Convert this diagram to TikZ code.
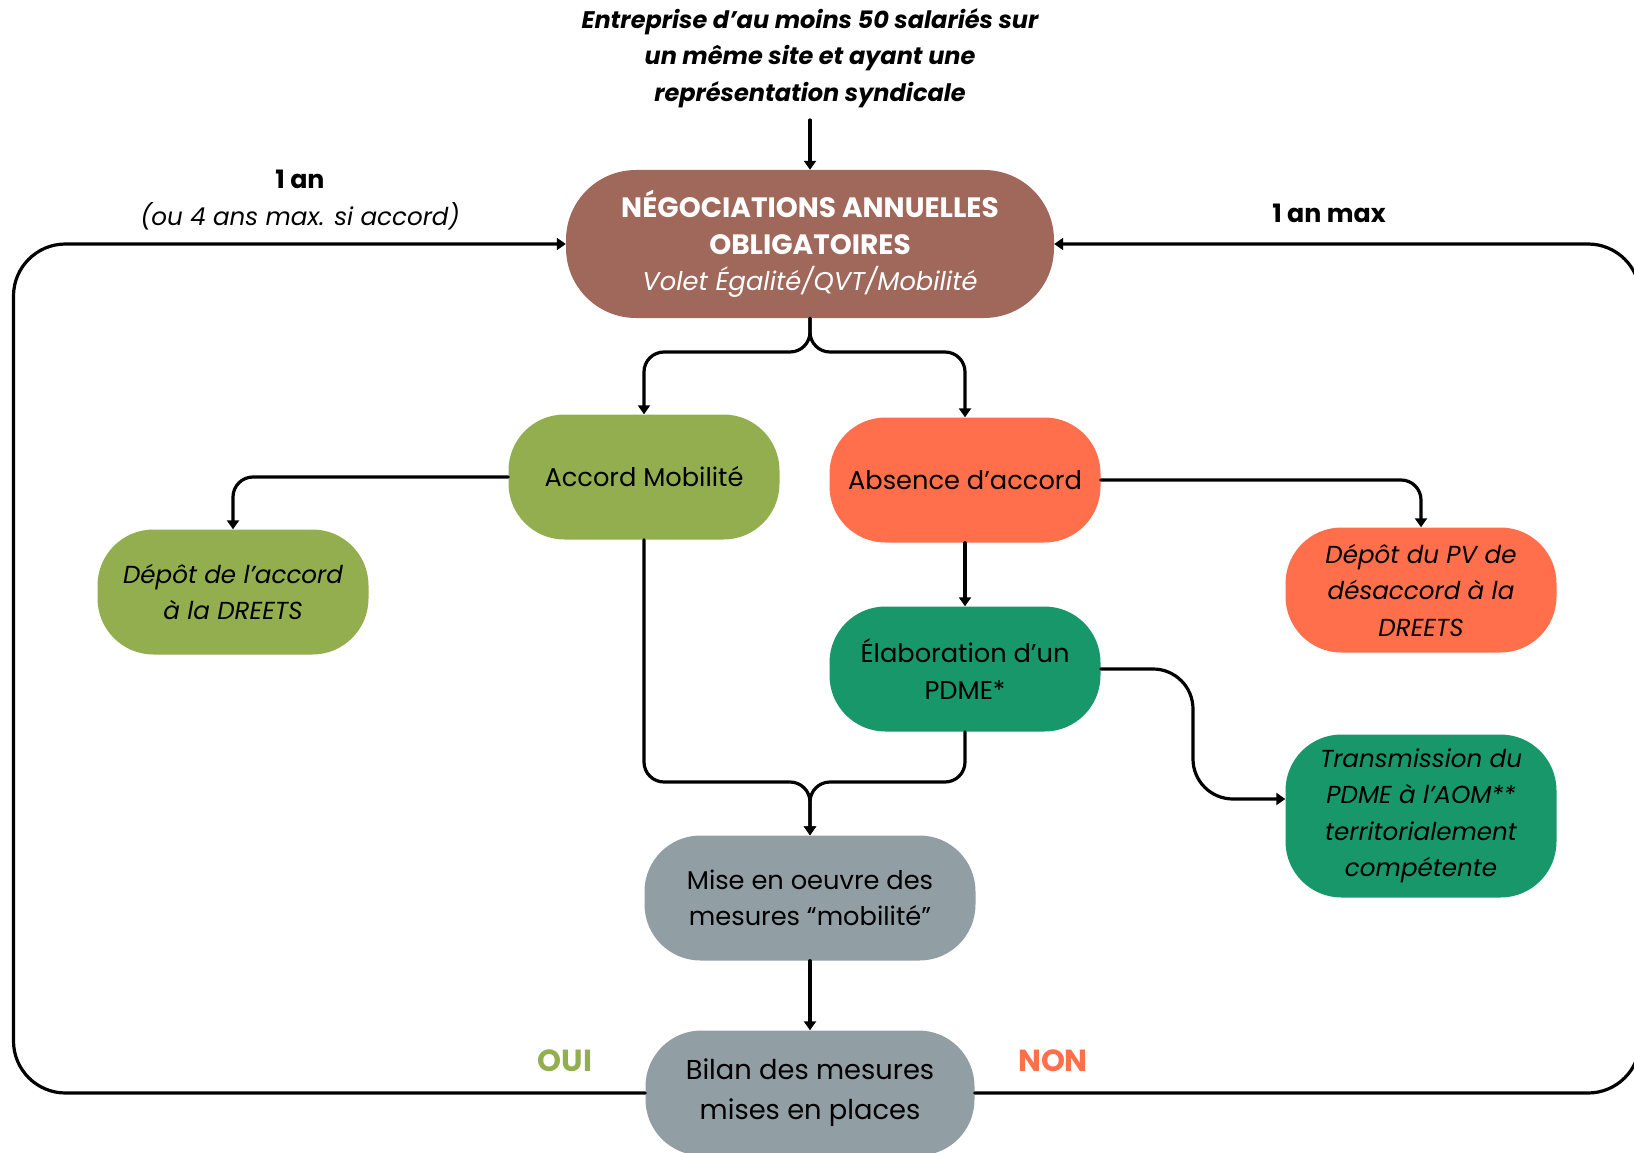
\documentclass[tikz,border=0pt]{standalone}
\usepackage{fontspec}
\setmainfont{Poppins}
\usetikzlibrary{arrows.meta}
\definecolor{brique}{HTML}{A0685A}
\definecolor{olive}{HTML}{92AE4F}
\definecolor{corail}{HTML}{FF6F4B}
\definecolor{emeraude}{HTML}{18976A}
\definecolor{ardoise}{HTML}{919EA4}
\newcommand{\naotitre}[1]{{\bfseries\fontsize{28}{36.5}\selectfont #1}}
\begin{document}
\begin{tikzpicture}[x=1pt, y=-1pt, line join=round, line cap=round,
	conn/.style={line width=3.2pt, -{Triangle[width=12pt,length=9pt]}, rounded corners=20pt},
	boucle/.style={line width=3.2pt, -{Triangle[width=12pt,length=9pt]}, rounded corners=52pt},
	etape/.style={rounded corners=56pt, minimum width=271pt, minimum height=125pt, align=center, inner sep=0pt, font=\fontsize{25.7}{36.5}\selectfont},
	penche/.style={font=\itshape\fontsize{24.6}{36.5}\selectfont},
	lbl/.style={align=center, font=\fontsize{24.6}{36.5}\selectfont}]
				\useasboundingbox (0,0) rectangle (1634,1153);
				% noeuds
				\node[lbl, font=\bfseries\itshape\fontsize{24}{36.5}\selectfont] (entreprise) at (810,58) {Entreprise d’au moins 50 salariés sur\\un même site et ayant une\\représentation syndicale};
				\node[etape, fill=brique, text=white, minimum width=488pt, minimum height=148pt, rounded corners=70pt] (nao) at (810,244) {\naotitre{NÉGOCIATIONS ANNUELLES}\\\naotitre{OBLIGATOIRES}\\\textit{Volet Égalité/QVT/Mobilité}};
				\node[etape, fill=olive] (accord) at (644,477) {Accord Mobilité};
				\node[etape, fill=corail] (absence) at (965,480) {Absence d’accord};
				\node[etape, fill=olive, penche] (depot) at (233,592) {Dépôt de l’accord\\à la DREETS};
				\node[etape, fill=corail, penche] (pv) at (1421,590) {Dépôt du PV de\\désaccord à la\\DREETS};
				\node[etape, fill=emeraude] (elab) at (965,669) {Élaboration d’un\\PDME*};
				\node[etape, fill=emeraude, minimum height=163pt, penche] (trans) at (1421,816) {Transmission du\\PDME à l’AOM**\\territorialement\\compétente};
				\node[etape, fill=ardoise, minimum width=331pt] (mise) at (810,898) {Mise en oeuvre des\\mesures “mobilité”};
				\node[etape, fill=ardoise, minimum width=329pt, font=\fontsize{27.3}{40}\selectfont] (bilan) at (810,1093) {Bilan des mesures\\mises en places};
				% textes libres
				\node[lbl] (unan) at (300,200) {{\bfseries\fontsize{25.3}{36.5}\selectfont 1 an}\\\textit{(ou 4 ans max. si accord)}};
				\node[lbl, font=\bfseries\fontsize{25.3}{36.5}\selectfont] (unanmax) at (1329,213) {1 an max};
				\node[lbl, text=olive, font=\bfseries\fontsize{30.5}{36.5}\selectfont] (oui) at (565,1061) {OUI};
				\node[lbl, text=corail, font=\bfseries\fontsize{30.5}{36.5}\selectfont] (non) at (1053,1061) {NON};
				% liaisons
				\coordinate (g) at (13.5,244);
				\coordinate (d) at (1640,244);
				\coordinate (fourche) at (810,352);
				\coordinate (jonction) at (810,782);
				\draw[conn] (810,120) -- (nao.north);
				\draw[conn] (nao.south) -- (fourche) -| (accord.north);
				\draw[conn] (nao.south) -- (fourche) -| (absence.north);
				\draw[conn] (accord.west) -| (depot.north);
				\draw[conn] (absence.east) -| (pv.north);
				\draw[conn] (absence.south) -- (elab.north);
				\draw[conn, rounded corners=40pt] (elab.east) -- (1193,669) |- ([yshift=17pt]trans.west);
				\draw[conn] (accord.south) |- (jonction) -- (mise.north);
				\draw[conn] (elab.south) |- (jonction) -- (mise.north);
				\draw[conn] (mise.south) -- (bilan.north);
				\draw[boucle] (bilan.west) -| (g) -- (nao.west);
				\draw[boucle] (bilan.east) -| (d) -- (nao.east);
			\end{tikzpicture}
\end{document}
